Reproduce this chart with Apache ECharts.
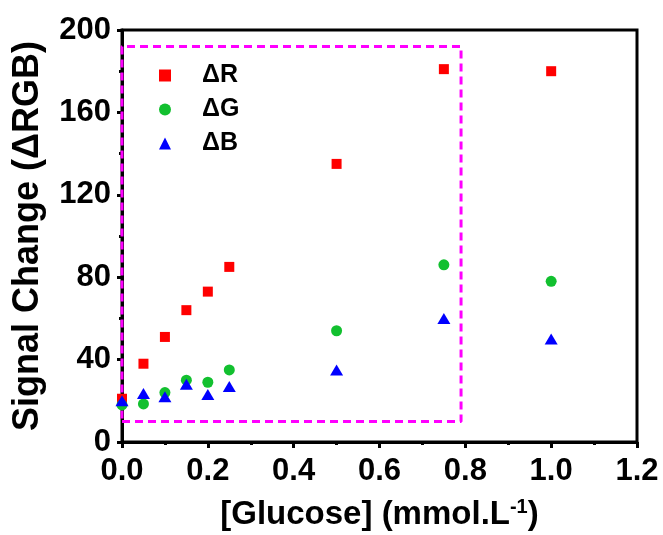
<!DOCTYPE html>
<html lang="en">

<head>
    <meta charset="UTF-8">
    <title>Signal Change vs Glucose</title>
    <style>
        html, body {margin:0; padding:0; background:#fff}
        #chart {width:663px; height:535px}
    </style>
    <script src="https://cdn.jsdelivr.net/npm/echarts@6/dist/echarts.min.js"></script>
</head>

<body>
    <div id="chart"></div>
    <script>
        // glucose concentrations (mmol/L)
        let glucose = [0, 0.05, 0.1, 0.15, 0.2, 0.25, 0.5, 0.75, 1.0]
        // signal changes
        let deltaR = [21, 38, 51, 64, 73, 85, 135, 181, 180]
        let deltaG = [18, 18.5, 24, 30, 29, 35, 54, 86, 78]
        let deltaB = [20, 23.5, 22, 28, 23, 27, 35, 60, 50]
        // dashed highlight box corners [x, y]
        let boxX = [0, 0.79, 0.79, 0, 0]
        let boxY = [10, 10, 192, 192, 10]

        let font = '"Liberation Sans", Arial, sans-serif'
        let pair = (xs, ys) => xs.map((x, i) => [x, ys[i]])

        let chart = echarts.init(document.getElementById('chart'))

        let option = {
            animation: false,
            grid: {
                left: 122, right: 26, top: 30, bottom: 93,
                outerBoundsMode: 'none',
                show: true, borderColor: '#000', borderWidth: 3
            },
            legend: {
                orient: 'vertical',
                left: 154, top: 58,
                itemWidth: 12, itemHeight: 12,
                itemGap: 9,
                data: ['ΔR', 'ΔG', 'ΔB'],
                textStyle: {
                    fontFamily: font, fontWeight: 'bold', fontSize: 25,
                    color: '#000', padding: [0, 0, 0, 26]
                }
            },
            xAxis: {
                type: 'value',
                min: 0, max: 1.2, interval: 0.2,
                name: '[Glucose] (mmol.L{sup|-1})',
                nameLocation: 'middle',
                nameGap: 55,
                nameTextStyle: {
                    fontFamily: font, fontWeight: 'bold', fontSize: 33, color: '#000',
                    lineHeight: 36,
                    rich: {
                        sup: {fontFamily: font, fontWeight: 'bold', fontSize: 20, color: '#000',
                              verticalAlign: 'top', lineHeight: 20}
                    }
                },
                axisLine: {onZero: false, lineStyle: {color: '#000', width: 3}},
                axisTick: {length: 6, lineStyle: {width: 3}},
                minorTick: {show: true, splitNumber: 2, length: 3, lineStyle: {color: '#000', width: 3}},
                splitLine: {show: false},
                axisLabel: {
                    margin: 14,
                    fontFamily: font, fontWeight: 'bold', fontSize: 31, color: '#000',
                    formatter: v => v.toFixed(1)
                }
            },
            yAxis: {
                type: 'value',
                min: 0, max: 200, interval: 40,
                name: 'Signal Change (ΔRGB)',
                nameLocation: 'middle',
                nameGap: 76,
                nameTextStyle: {
                    fontFamily: font, fontWeight: 'bold', fontSize: 36, color: '#000'
                },
                axisLine: {onZero: false, lineStyle: {color: '#000', width: 3}},
                axisTick: {length: 5, lineStyle: {width: 3}},
                minorTick: {show: true, splitNumber: 2, length: 3, lineStyle: {color: '#000', width: 3}},
                splitLine: {show: false},
                axisLabel: {
                    margin: 11,
                    fontFamily: font, fontWeight: 'bold', fontSize: 31, color: '#000'
                }
            },
            series: [
                {
                    name: 'box',
                    type: 'line',
                    data: pair(boxX, boxY),
                    symbol: 'none',
                    silent: true,
                    z: 1,
                    lineStyle: {color: '#ff00ff', width: 3, type: [8, 5]}
                },
                {
                    name: 'ΔR',
                    type: 'scatter',
                    symbol: 'rect',
                    symbolSize: 10,
                    data: pair(glucose, deltaR),
                    itemStyle: {color: '#ff0000', opacity: 1},
                    z: 3
                },
                {
                    name: 'ΔG',
                    type: 'scatter',
                    symbol: 'circle',
                    symbolSize: 11,
                    data: pair(glucose, deltaG),
                    itemStyle: {color: '#12c02f', opacity: 1},
                    z: 3
                },
                {
                    name: 'ΔB',
                    type: 'scatter',
                    symbol: 'triangle',
                    symbolSize: [13, 11],
                    data: pair(glucose, deltaB),
                    itemStyle: {color: '#0000ff', opacity: 1},
                    z: 4
                }
            ]
        }

        chart.setOption(option)
    </script>
</body>

</html>
